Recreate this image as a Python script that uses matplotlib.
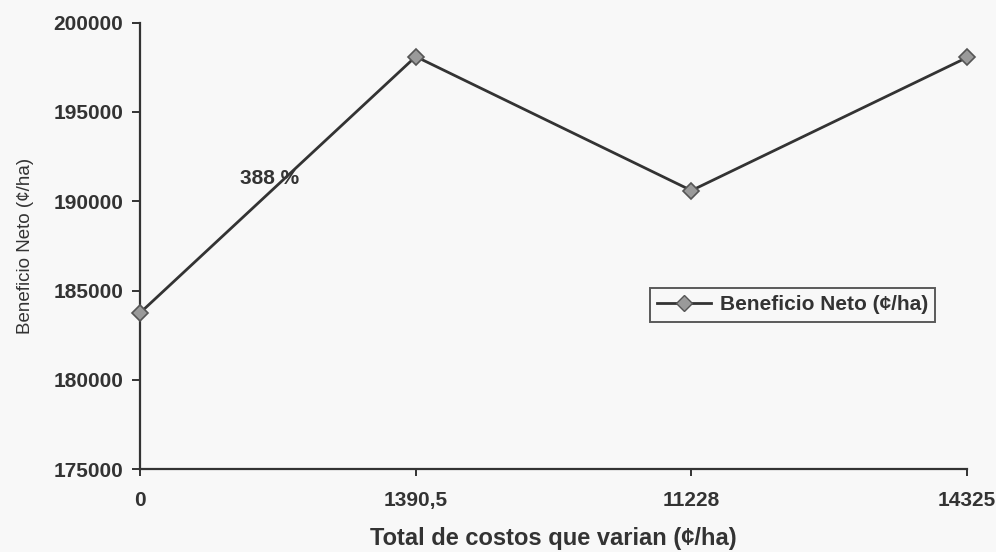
import matplotlib
matplotlib.use("Agg")
import matplotlib.pyplot as plt
from matplotlib.lines import Line2D

# Costs that vary (¢/ha) and the net benefit (¢/ha) for each treatment
cost_labels = ["0", "1390,5", "11228", "14325"]
net_benefit = [183750, 198100, 190600, 198050]
y_ticks = [175000, 180000, 185000, 190000, 195000, 200000]
rate_label = "388 %"

ink = "#333333"
bg = "#f8f8f8"
plt.rcParams["font.family"] = ["Liberation Sans", "DejaVu Sans"]

fig = plt.figure(figsize=(9.96, 5.52), dpi=100, facecolor=bg)
ax = fig.add_axes([0.1406, 0.150, 0.8304, 0.809], facecolor=bg)

x = list(range(len(cost_labels)))
ax.plot(x, net_benefit, color=ink, lw=2.0, marker="D", markersize=8,
        markerfacecolor="#9a9a9a", markeredgecolor="#555555",
        markeredgewidth=1.2, zorder=3, clip_on=False)

ax.set_xlim(0, len(cost_labels) - 1)
ax.set_ylim(y_ticks[0], y_ticks[-1])
ax.set_xticks(x)
ax.set_xticklabels(cost_labels)
ax.set_yticks(y_ticks)
ax.set_yticklabels([str(v) for v in y_ticks])

for s in ("top", "right"):
    ax.spines[s].set_visible(False)
for s in ("left", "bottom"):
    ax.spines[s].set_color(ink)
    ax.spines[s].set_linewidth(1.6)

ax.tick_params(axis="y", direction="out", length=6, width=1.4, color=ink,
               labelsize=15, labelcolor=ink, pad=6)
ax.tick_params(axis="x", direction="out", length=5, width=1.4, color=ink,
               labelsize=15, labelcolor=ink, pad=11)
for lbl in ax.get_yticklabels():
    lbl.set_fontweight("bold")
for lbl in ax.get_xticklabels():
    lbl.set_fontweight("bold")

ax.set_ylabel("Beneficio Neto (¢/ha)", fontsize=13.5, color=ink, labelpad=14)
ax.set_xlabel("Total de costos que varian (¢/ha)", fontsize=17, color=ink,
              fontweight="bold", labelpad=12)

ax.text(0.47, 191300, rate_label, fontsize=15, fontweight="bold", color=ink,
        ha="center", va="center")

handle = Line2D([], [], color=ink, lw=2.0, marker="D", markersize=8,
                markerfacecolor="#9a9a9a", markeredgecolor="#555555")
leg = ax.legend([handle], ["Beneficio Neto (¢/ha)"], loc="center",
                bbox_to_anchor=(0.789, 0.368), frameon=True, fancybox=False,
                prop={"size": 15, "weight": "bold"}, handlelength=2.6,
                borderpad=0.35, handletextpad=0.4)
leg.get_frame().set_edgecolor(ink)
leg.get_frame().set_linewidth(1.4)
leg.get_frame().set_facecolor(bg)
for t in leg.get_texts():
    t.set_color(ink)

fig.savefig("out.png", dpi=100, facecolor=bg)
